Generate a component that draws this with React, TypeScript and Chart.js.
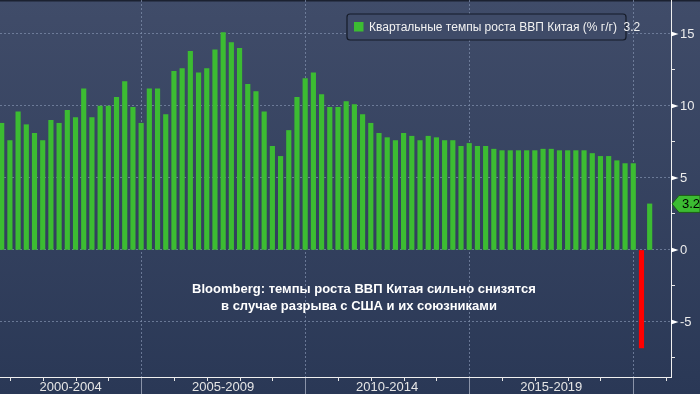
import React, { useEffect, useRef } from "react";
import { Chart, registerables } from "chart.js";

Chart.register(...registerables);

// ---- data ----
const firstYear = 2000;
const firstQuarter = 3;
const gdpGrowth: number[] = [
  8.8, 7.6, 9.6, 8.7, 8.1, 7.6, 9.0, 8.8, 9.7, 9.2,
  11.2, 9.2, 10.0, 10.0, 10.6, 11.7, 9.9, 8.8, 11.2, 11.2,
  9.4, 12.4, 12.6, 13.8, 12.3, 12.6, 13.9, 15.1, 14.4, 14.0,
  11.5, 11.0, 9.6, 7.2, 6.5, 8.3, 10.6, 11.9, 12.3, 10.8,
  9.9, 9.9, 10.3, 10.1, 9.4, 8.8, 8.1, 7.8, 7.6, 8.1,
  7.9, 7.6, 7.9, 7.8, 7.6, 7.6, 7.2, 7.4, 7.2, 7.2,
  7.0, 6.9, 6.9, 6.9, 6.9, 6.9, 7.0, 7.0, 6.9, 6.9,
  6.9, 6.9, 6.7, 6.5, 6.5, 6.2, 6.0, 6.0, -6.8, 3.2,
];
const quarterLabels: string[] = gdpGrowth.map((_, i) => {
  const q = firstQuarter - 1 + i;
  return `${firstYear + Math.floor(q / 4)} Q${(q % 4) + 1}`;
});
const periodLabels = ["2000-2004", "2005-2009", "2010-2014", "2015-2019"];
const periodLabelPositions = [8.4, 27, 47, 67];
const periodBoundaries = [17, 37, 57, 77];
const yearTicks = [1, 5, 9, 13, 21, 25, 29, 33, 41, 45, 49, 53, 61, 65, 69, 73, 81];
const yMajorTicks = [-5, 0, 5, 10, 15];
const yMinorTicks = [-7.5, -2.5, 2.5, 7.5, 12.5];
const seriesLabel = "Квартальные темпы роста ВВП Китая (% г/г)";
const noteLines = [
  "Bloomberg: темпы роста ВВП Китая сильно снизятся",
  "в случае разрыва с США и их союзниками",
];

const FONT = "'Liberation Sans', Arial, sans-serif";
const GREEN = "#3cbc32";
const RED = "#ff0000";
const GRID = "rgba(125,140,170,0.75)";

const decorPlugin = {
  id: "decor",
  beforeDraw(chart: any) {
    const { ctx, width, height } = chart;
    ctx.save();
    const g = ctx.createLinearGradient(0, 0, 0, height);
    g.addColorStop(0, "#404c69");
    g.addColorStop(1, "#2a3856");
    ctx.fillStyle = g;
    ctx.fillRect(0, 0, width, height);
    ctx.fillStyle = "#1b2130";
    ctx.fillRect(0, 0, width, 1.5);
    ctx.restore();
  },
  afterDraw(chart: any) {
    const { ctx } = chart;
    const xs = chart.scales.x;
    const ys = chart.scales.y;
    const area = chart.chartArea;
    ctx.save();
    // year ticks below x axis
    ctx.strokeStyle = "#e8e8e8";
    ctx.lineWidth = 1;
    yearTicks.forEach((v) => {
      const px = Math.round(xs.getPixelForValue(v)) + 0.5;
      ctx.beginPath();
      ctx.moveTo(px, area.bottom);
      ctx.lineTo(px, area.bottom + 4);
      ctx.stroke();
    });
    // triangles on y axis
    ctx.fillStyle = "#ffffff";
    yMajorTicks.forEach((v) => {
      const py = ys.getPixelForValue(v);
      ctx.beginPath();
      ctx.moveTo(area.right, py - 2.6);
      ctx.lineTo(area.right + 7.5, py);
      ctx.lineTo(area.right, py + 2.6);
      ctx.closePath();
      ctx.fill();
    });
    // last value tag
    const last = gdpGrowth[gdpGrowth.length - 1];
    const ty = ys.getPixelForValue(last);
    const x0 = area.right + 1;
    ctx.beginPath();
    ctx.moveTo(x0, ty);
    ctx.lineTo(x0 + 7, ty - 8.5);
    ctx.lineTo(700, ty - 8.5);
    ctx.lineTo(700, ty + 8.5);
    ctx.lineTo(x0 + 7, ty + 8.5);
    ctx.closePath();
    ctx.fillStyle = GREEN;
    ctx.fill();
    ctx.strokeStyle = "#1d5f18";
    ctx.lineWidth = 1;
    ctx.stroke();
    ctx.fillStyle = "#000000";
    ctx.font = `13px ${FONT}`;
    ctx.textAlign = "left";
    ctx.textBaseline = "middle";
    ctx.fillText(last.toFixed(1), x0 + 10, ty + 0.5);

    // legend box
    const lx = 347, lyy = 14, lw = 279, lh = 26;
    ctx.beginPath();
    const r = 3;
    ctx.moveTo(lx + r, lyy);
    ctx.arcTo(lx + lw, lyy, lx + lw, lyy + lh, r);
    ctx.arcTo(lx + lw, lyy + lh, lx, lyy + lh, r);
    ctx.arcTo(lx, lyy + lh, lx, lyy, r);
    ctx.arcTo(lx, lyy, lx + lw, lyy, r);
    ctx.closePath();
    ctx.fillStyle = "#3f4b68";
    ctx.fill();
    ctx.strokeStyle = "#151b28";
    ctx.lineWidth = 1.2;
    ctx.stroke();
    ctx.fillStyle = GREEN;
    ctx.fillRect(354, 22, 9.5, 9.5);
    ctx.fillStyle = "#f2f2f2";
    ctx.font = `12px ${FONT}`;
    ctx.textBaseline = "middle";
    ctx.fillText(`${seriesLabel}  ${last.toFixed(1)}`, 369, 27.5);

    // annotation
    ctx.font = `bold 13px ${FONT}`;
    ctx.textAlign = "center";
    ctx.fillStyle = "#ffffff";
    ctx.fillText(noteLines[0], 364, 289.5);
    ctx.fillText(noteLines[1], 359, 306.5);
    ctx.restore();
  },
};

export default function App() {
  const ref = useRef<HTMLCanvasElement | null>(null);

  useEffect(() => {
    document.body.style.margin = "0";
    const canvas = ref.current!;
    const chart = new Chart(canvas, {
      type: "bar",
      data: {
        labels: quarterLabels,
        datasets: [
          {
            label: seriesLabel,
            data: gdpGrowth.map((v, i) => ({ x: i, y: v })),
            backgroundColor: gdpGrowth.map((v) => (v < 0 ? RED : GREEN)),
            borderWidth: 0,
            barThickness: 4.5,
          } as any,
        ],
      },
      options: {
        responsive: false,
        animation: false,
        layout: { padding: 0 },
        plugins: {
          legend: { display: false },
          tooltip: { enabled: false },
        },
        scales: {
          x: {
            type: "linear",
            min: -0.207,
            max: 81.6,
            offset: false,
            afterBuildTicks: (s: any) => {
              const vals = [...periodBoundaries, ...periodLabelPositions].sort((a, b) => a - b);
              s.ticks = vals.map((v) => ({ value: v }));
            },
            afterFit: (s: any) => {
              s.height = 17;
              s.paddingLeft = 0;
              s.paddingRight = 0;
            },
            ticks: {
              autoSkip: false,
              maxRotation: 0,
              minRotation: 0,
              padding: -14,
              color: "#e6e6e6",
              font: { size: 13, family: FONT },
              callback: (v: any) => {
                const idx = periodLabelPositions.indexOf(Number(v));
                return idx >= 0 ? periodLabels[idx] : "";
              },
            },
            grid: {
              offset: false,
              color: (c: any) =>
                c.tick && periodBoundaries.includes(c.tick.value) ? GRID : "rgba(0,0,0,0)",
              tickColor: (c: any) =>
                c.tick && periodBoundaries.includes(c.tick.value) ? "#8a93a8" : "rgba(0,0,0,0)",
              tickLength: 17,
              tickBorderDash: [],
              lineWidth: 1,
            },
            border: { display: true, color: "#f0f0f0", width: 1, dash: [2, 2] },
          } as any,
          y: {
            position: "right",
            min: -8.82,
            max: 17.36,
            afterBuildTicks: (s: any) => {
              const vals = [...yMajorTicks, ...yMinorTicks].sort((a, b) => a - b);
              s.ticks = vals.map((v) => ({ value: v }));
            },
            afterFit: (s: any) => {
              s.width = 29;
              s.paddingTop = 0;
              s.paddingBottom = 0;
            },
            ticks: {
              padding: 5,
              color: "#ececec",
              font: { size: 13, family: FONT },
              callback: (v: any) => (yMajorTicks.includes(Number(v)) ? String(v) : ""),
            },
            grid: {
              color: (c: any) =>
                c.tick && yMajorTicks.includes(c.tick.value) ? GRID : "rgba(0,0,0,0)",
              tickColor: (c: any) =>
                c.tick && yMajorTicks.includes(c.tick.value) ? "rgba(0,0,0,0)" : "#e8e8e8",
              tickLength: 4,
              tickBorderDash: [],
              lineWidth: 1,
            },
            border: { display: true, color: "#f0f0f0", width: 1, dash: [2, 2] },
          } as any,
        },
      },
      plugins: [decorPlugin],
    });
    return () => chart.destroy();
  }, []);

  return (
    <div style={{ width: 700, height: 394 }}>
      <canvas ref={ref} width={700} height={394} style={{ display: "block" }} />
    </div>
  );
}
